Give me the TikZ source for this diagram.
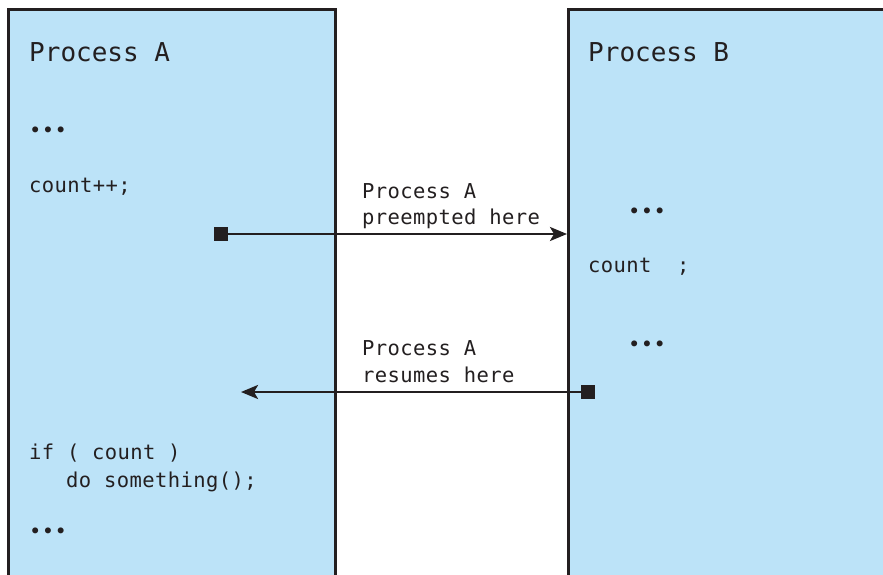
\documentclass[tikz,border=0pt]{standalone}
\usepackage{fontspec}
\setmonofont{DejaVu Sans Mono}
\newfontfamily\codefont{DejaVu Sans Mono}[LetterSpace=2]
\usepackage{tikz}
\usetikzlibrary{arrows.meta,positioning,calc}
\definecolor{procFill}{RGB}{188,227,248}
\definecolor{inkGray}{RGB}{35,31,32}
\tikzset{
  procbox/.style={draw=inkGray, line width=2.6pt, fill=procFill, anchor=north west,
                  minimum width=327pt, minimum height=590pt, inner sep=0pt},
  title/.style={anchor=base west, inner sep=0pt, text=inkGray,
                font=\ttfamily\fontsize{26}{30}\selectfont},
  code/.style={anchor=base west, inner sep=0pt, text=inkGray,
               font=\codefont\fontsize{20.5}{26}\selectfont},
  sqmark/.style={fill=inkGray, minimum size=14pt, inner sep=0pt},
  flow/.style={-{Stealth[length=17pt,width=14pt,inset=4pt]}, line width=2.6pt, draw=inkGray}
}
\begin{document}
\begin{tikzpicture}[x=1pt, y=-1pt]
\useasboundingbox (0,0) rectangle (883,575);
\clip (0,0) rectangle (883,575);
% the two processes
\node[procbox] (procA) at (7,8) {};
\node[procbox, minimum width=340pt] (procB) at (567,8) {};
% process A code
\node[title] (titleA) at (29,62) {Process A};
\node[code] (dotsA1) at (29,137) {•••};
\node[code] (incr) at (29,192) {count++;};
\node[code] (ifline) at (29,459) {if ( count )};
\node[code] (doline) at (66,487) {do something();};
\node[code] (dotsA2) at (29,538) {•••};
% process B code
\node[title] (titleB) at (588,62) {Process B};
\node[code] (dotsB1) at (628,218) {•••};
\node[code] (decr) at (588,272) {count~~;};
\node[code] (dotsB2) at (628,351) {•••};
% switch labels
\node[code] (preA) at (362,198) {Process A};
\node[code] (preB) at (362,224) {preempted here};
\node[code] (resA) at (362,355) {Process A};
\node[code] (resB) at (362,382) {resumes here};
% context switches
\node[sqmark] (markA) at (221,234) {};
\node[sqmark] (markB) at (588,392) {};
\coordinate (preemptEnd) at (markA -| procB.west);
\coordinate (resumeEnd) at (241,392);
\draw[flow] (markA) -- (preemptEnd);
\draw[flow] (markB) -- (resumeEnd);
\end{tikzpicture}
\end{document}
